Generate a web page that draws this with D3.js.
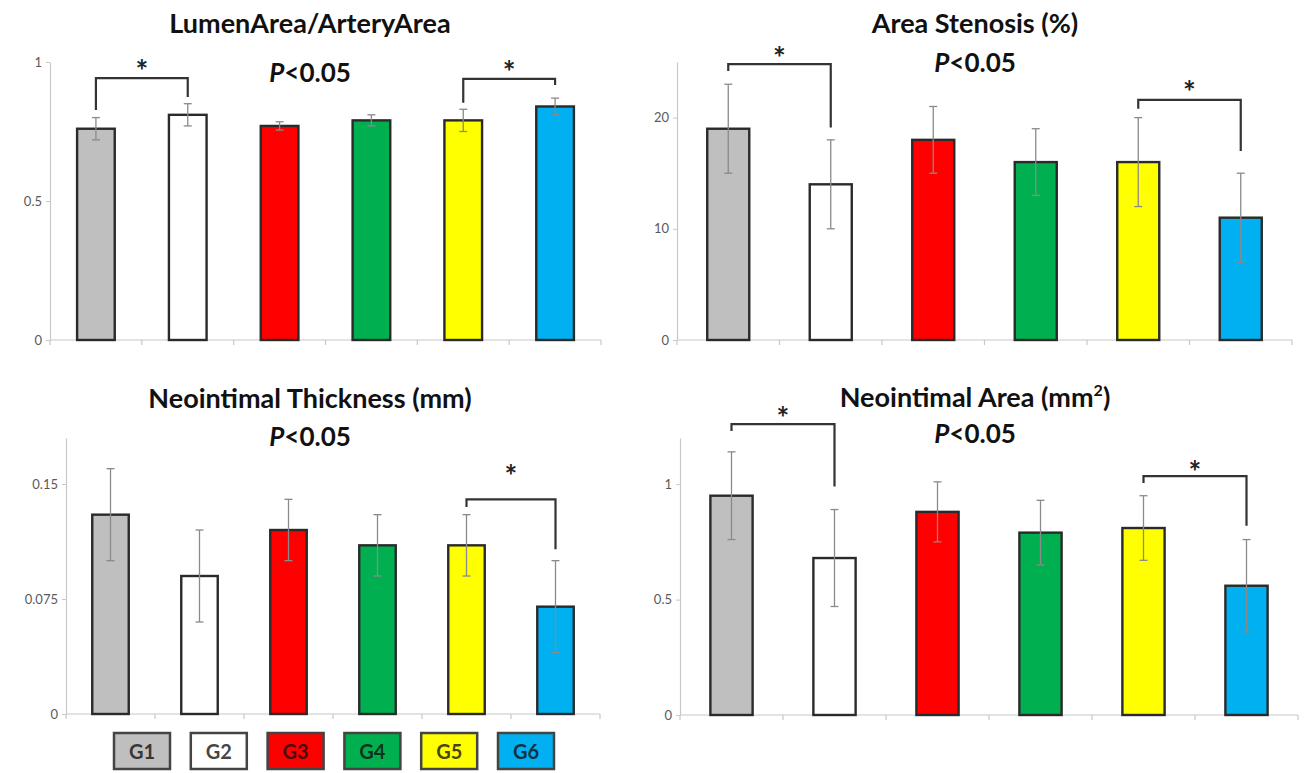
<!DOCTYPE html>
<html>
<head>
<meta charset="utf-8">
<script src="https://cdn.jsdelivr.net/npm/d3@7/dist/d3.min.js"></script>
<style>
  html, body { margin: 0; padding: 0; background: #fff; }
  svg { display: block; }
  text { font-family: Lato, "Open Sans", sans-serif; }
</style>
</head>
<body>
<svg id="chart" width="1308" height="773"></svg>
<script>
// ---------- DATA ----------
const groups = ["G1", "G2", "G3", "G4", "G5", "G6"];
const groupColors = ["#bfbfbf", "#ffffff", "#ff0000", "#00b050", "#ffff00", "#00b0f0"];

const lumenTitle = "LumenArea/ArteryArea";
const lumenMean = [0.76, 0.81, 0.77, 0.79, 0.79, 0.84];
const lumenErr  = [0.04, 0.04, 0.015, 0.02, 0.04, 0.03];
const lumenTicks = [0, 0.5, 1];
const lumenTickLabels = ["0", "0.5", "1"];
const lumenMax = 1;
// [from, to, bracket top, left end, right end, star y]
const lumenBrackets = [[0, 1, 0.942, 0.827, 0.874, 0.982], [4, 5, 0.939, 0.853, 0.917, 0.978]];

const stenosisTitle = "Area Stenosis (%)";
const stenosisMean = [19, 14, 18, 16, 16, 11];
const stenosisErr  = [4, 4, 3, 3, 4, 4];
const stenosisTicks = [0, 10, 20];
const stenosisTickLabels = ["0", "10", "20"];
const stenosisMax = 25;
const stenosisBrackets = [[0, 1, 24.8, 24.2, 19.1, 25.7], [4, 5, 21.6, 20.8, 17.0, 22.7]];

const thickTitle = "Neointimal Thickness (mm)";
const thickMean = [0.13, 0.09, 0.12, 0.11, 0.11, 0.07];
const thickErr  = [0.03, 0.03, 0.02, 0.02, 0.02, 0.03];
const thickTicks = [0, 0.075, 0.15];
const thickTickLabels = ["0", "0.075", "0.15"];
const thickMax = 0.18;
const thickBrackets = [[4, 5, 0.14, 0.135, 0.1075, 0.158]];

const niaTitle = "Neointimal Area (mm";
const niaMean = [0.95, 0.68, 0.88, 0.79, 0.81, 0.56];
const niaErr  = [0.19, 0.21, 0.13, 0.14, 0.14, 0.20];
const niaTicks = [0, 0.5, 1];
const niaTickLabels = ["0", "0.5", "1"];
const niaMax = 1.2;
const niaBrackets = [[0, 1, 1.26, 1.23, 0.99, 1.306], [4, 5, 1.035, 1.005, 0.82, 1.069]];

const pText = "<0.05";

// ---------- LAYOUT ----------
const panels = [
  { title: lumenTitle, sup: false, mean: lumenMean, err: lumenErr, ticks: lumenTicks, labels: lumenTickLabels, max: lumenMax, brackets: lumenBrackets,
    x0: 50, x1: 601, yZero: 340, yTop: 62, cx: 310, titleY: 33, pY: 82 },
  { title: stenosisTitle, sup: false, mean: stenosisMean, err: stenosisErr, ticks: stenosisTicks, labels: stenosisTickLabels, max: stenosisMax, brackets: stenosisBrackets,
    x0: 677, x1: 1292, yZero: 340, yTop: 62, cx: 975, titleY: 33, pY: 72 },
  { title: thickTitle, sup: false, mean: thickMean, err: thickErr, ticks: thickTicks, labels: thickTickLabels, max: thickMax, brackets: thickBrackets,
    x0: 66, x1: 600, yZero: 714, yTop: 438, cx: 310, titleY: 408, pY: 446 },
  { title: niaTitle, sup: true, mean: niaMean, err: niaErr, ticks: niaTicks, labels: niaTickLabels, max: niaMax, brackets: niaBrackets,
    x0: 680, x1: 1298, yZero: 715, yTop: 438, cx: 975, titleY: 407, pY: 443 }
];

const svg = d3.select("#chart");

panels.forEach(p => {
  const g = svg.append("g");
  const x = d3.scaleBand().domain(groups).range([p.x0, p.x1]).paddingInner(0.59).paddingOuter(0.295);
  const y = d3.scaleLinear().domain([0, p.max]).range([p.yZero, p.yTop]);
  const step = x.step();

  // y axis
  const yAxis = d3.axisLeft(y).tickValues(p.ticks).tickFormat((d, i) => p.labels[i]).tickSize(4).tickSizeOuter(0).tickPadding(4);
  const ya = g.append("g").attr("transform", `translate(${p.x0},0)`).call(yAxis);
  ya.select(".domain").attr("stroke", "#c8c8c8").attr("stroke-width", 1.2);
  ya.selectAll(".tick line").attr("stroke", "#c8c8c8");
  ya.selectAll(".tick text").attr("fill", "#5a5a5a").style("font-size", "13px").style("font-family", "Lato, sans-serif");

  // x axis line + ticks at band boundaries
  g.append("line").attr("x1", p.x0).attr("x2", p.x1).attr("y1", p.yZero).attr("y2", p.yZero)
    .attr("stroke", "#c8c8c8").attr("stroke-width", 1.2);
  g.selectAll(".xt").data(d3.range(groups.length + 1)).enter().append("line")
    .attr("x1", i => x.range()[0] + i * step).attr("x2", i => x.range()[0] + i * step)
    .attr("y1", p.yZero).attr("y2", p.yZero + 5)
    .attr("stroke", "#c8c8c8").attr("stroke-width", 1.2);

  // bars
  g.selectAll(".bar").data(groups).enter().append("rect")
    .attr("x", d => x(d)).attr("width", x.bandwidth())
    .attr("y", (d, i) => y(p.mean[i])).attr("height", (d, i) => y(0) - y(p.mean[i]))
    .attr("fill", (d, i) => groupColors[i])
    .attr("stroke", "#2a2a2a").attr("stroke-width", 2.4);

  // error bars
  const cap = 4;
  groups.forEach((d, i) => {
    const cx = x(d) + x.bandwidth() / 2;
    const hi = y(p.mean[i] + p.err[i]), lo = y(p.mean[i] - p.err[i]);
    g.append("line").attr("x1", cx).attr("x2", cx).attr("y1", hi).attr("y2", lo).attr("stroke", "#8a8a8a").attr("stroke-width", 1.3);
    g.append("line").attr("x1", cx - cap).attr("x2", cx + cap).attr("y1", hi).attr("y2", hi).attr("stroke", "#8a8a8a").attr("stroke-width", 1.3);
    g.append("line").attr("x1", cx - cap).attr("x2", cx + cap).attr("y1", lo).attr("y2", lo).attr("stroke", "#8a8a8a").attr("stroke-width", 1.3);
  });

  // significance brackets
  p.brackets.forEach(b => {
    const xa = x(groups[b[0]]) + x.bandwidth() / 2;
    const xb = x(groups[b[1]]) + x.bandwidth() / 2;
    const path = d3.path();
    path.moveTo(xa, y(b[3])); path.lineTo(xa, y(b[2])); path.lineTo(xb, y(b[2])); path.lineTo(xb, y(b[4]));
    g.append("path").attr("d", path.toString()).attr("fill", "none").attr("stroke", "#333").attr("stroke-width", 2.2);
    g.append("text").attr("x", (xa + xb) / 2).attr("y", y(b[5]) + 15).attr("text-anchor", "middle")
      .style("font-size", "30px").style("font-weight", "700").attr("fill", "#222").text("*");
  });

  // title
  const t = g.append("text").attr("x", p.cx).attr("y", p.titleY).attr("text-anchor", "middle")
    .style("font-size", "27px").style("font-weight", "700").attr("fill", "#111");
  t.append("tspan").text(p.title);
  if (p.sup) {
    t.append("tspan").attr("dy", -11).style("font-size", "16px").text("2");
    t.append("tspan").attr("dy", 11).text(")");
  }

  // P<0.05
  const pt = g.append("text").attr("x", p.cx).attr("y", p.pY).attr("text-anchor", "middle")
    .style("font-size", "26px").style("font-weight", "700").attr("fill", "#111");
  pt.append("tspan").style("font-style", "italic").text("P");
  pt.append("tspan").text(pText);
});

// legend
const lx = d3.scalePoint().domain(groups).range([142, 526]);
const lw = 56, lh = 36, ly = 733;
const lg = svg.append("g");
groups.forEach((d, i) => {
  lg.append("rect").attr("x", lx(d) - lw / 2).attr("y", ly).attr("width", lw).attr("height", lh)
    .attr("fill", groupColors[i]).attr("stroke", "#444").attr("stroke-width", 2.5);
  lg.append("text").attr("x", lx(d)).attr("y", ly + 26).attr("text-anchor", "middle")
    .style("font-size", "20px").style("font-weight", "700").attr("fill", "#111").attr("fill-opacity", 0.8).text(d);
});
</script>
</body>
</html>
